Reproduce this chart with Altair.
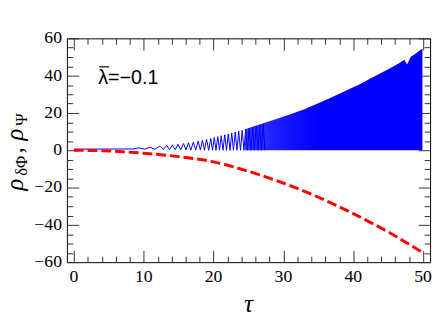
import altair as alt
import pandas as pd

# ---- data ----
tau_red = [0, 5, 10, 15, 20, 25, 30, 35, 40, 45, 50]
rho_red = [0, -0.4, -1.6, -3.4, -6.2, -11.3, -17.6, -25.2, -34.0, -43.8, -55.0]

tau_blue = [0, 8.5, 9.3, 10.1, 10.9, 11.6, 12.3, 12.8, 13.3, 13.7, 14.1, 14.5, 14.9, 15.3,
            15.7, 16.05, 16.4, 16.75, 17.1, 17.45, 17.8, 18.1, 18.4, 18.7, 19.0, 19.3,
            19.6, 19.85, 20.1, 20.35, 20.6, 20.85, 21.1, 21.35, 21.6, 21.85, 22.1, 22.35,
            22.6, 22.85, 23.1, 23.35, 23.6, 23.85, 24.1, 24.35, 24.6, 24.85, 25.1, 25.35,
            25.6, 25.85, 26.1, 26.35, 26.6, 26.85, 27.1, 27.35]
rho_blue = [0.6, 0.7, 1.3, 0.6, 1.6, 0.5, 2.3, 0.4, 2.6, 0.3, 2.9, 0.3, 3.2, 0.2,
            3.6, 0.2, 4.0, 0.1, 4.4, 0.1, 4.9, 0.1, 5.3, 0.0, 5.8, 0.0,
            6.3, 0.0, 6.8, 0.0, 7.3, 0.0, 7.8, 0.0, 8.3, 0.0, 8.8, 0.0,
            9.3, 0.0, 9.8, 0.0, 10.3, 0.0, 10.7, 0.0, 11.2, 0.0, 11.7, 0.0,
            12.3, 0.0, 12.9, 0.0, 13.5, 0.0, 14.1, 0.0]

tau_env = [24.5, 25, 27, 29, 31, 33, 35, 37, 39, 41, 43, 45, 46.5, 47.3, 47.7, 48.2, 49.0, 49.9]
env_upper = [11.0, 12.0, 14.3, 16.7, 19.3, 22.0, 25.2, 28.5, 32.0, 35.5, 39.5, 43.5, 46.5, 48.5, 46.0, 50.0, 52.0, 54.5]
env_lower = [0.0] * len(tau_env)

x_major = [0, 10, 20, 30, 40, 50]
x_labels = ["0", "10", "20", "30", "40", "50"]
x_minor = [2, 4, 6, 8, 12, 14, 16, 18, 22, 24, 26, 28, 32, 34, 36, 38, 42, 44, 46, 48]
y_major = [-60, -40, -20, 0, 20, 40, 60]
y_labels = ["−60", "−40", "−20", "0", "20", "40", "60"]
y_minor = [-55, -50, -45, -35, -30, -25, -15, -10, -5, 5, 10, 15, 25, 30, 35, 45, 50, 55]

param_text = "λ=−0.1"
x_title = "τ"
y_title_parts = ["ρ", "δΦ", ",", "ρ", "Ψ"]

red_df = pd.DataFrame({"tau": tau_red, "rho": rho_red})
blue_df = pd.DataFrame({"tau": tau_blue, "rho": rho_blue})
env_df = pd.DataFrame({"tau": tau_env, "hi": env_upper, "lo": env_lower})
xlab_df = pd.DataFrame({"v": x_major, "t": x_labels})
ylab_df = pd.DataFrame({"v": y_major, "t": y_labels})

XS = alt.Scale(domain=[-1, 51], nice=False, zero=False)
YS = alt.Scale(domain=[-60, 60], nice=False, zero=False)
TICK = "#333333"
SERIF = "Times New Roman, Liberation Serif, DejaVu Serif, serif"


def tick_axis(orient, values, size):
    return alt.Axis(orient=orient, values=values, labels=False, ticks=True, tickSize=size,
                    tickColor=TICK, tickWidth=1, domain=False, grid=False, title=None,
                    offset=-size)


area = alt.Chart(env_df).mark_area(
    color=alt.Gradient(gradient="linear",
                       stops=[alt.GradientStop(color="#3c3cff", offset=0),
                              alt.GradientStop(color="#1a1aff", offset=0.2),
                              alt.GradientStop(color="#0000ff", offset=0.4),
                              alt.GradientStop(color="#0000ff", offset=1)],
                       x1=0, x2=1, y1=0, y2=0)
).encode(
    x=alt.X("tau:Q", scale=XS, axis=tick_axis("bottom", x_minor, 6)),
    y=alt.Y("hi:Q", scale=YS, axis=tick_axis("left", y_minor, 6)),
    y2="lo:Q",
)

blue = alt.Chart(blue_df).mark_line(color="#0000ff", strokeWidth=1).encode(
    x=alt.X("tau:Q", scale=XS, axis=tick_axis("bottom", x_major, 12)),
    y=alt.Y("rho:Q", scale=YS, axis=tick_axis("left", y_major, 12)),
)

red = alt.Chart(red_df).mark_line(color="#ff0000", strokeWidth=3, strokeDash=[10, 4],
                                  interpolate="monotone").encode(
    x=alt.X("tau:Q", scale=XS, axis=None),
    y=alt.Y("rho:Q", scale=YS, axis=None),
)

top_major = alt.Chart(red_df).mark_line(opacity=0).encode(
    x=alt.X("tau:Q", scale=XS, axis=tick_axis("top", x_major, 12)),
    y=alt.Y("rho:Q", scale=YS, axis=tick_axis("right", y_major, 12)),
)
top_minor = alt.Chart(red_df).mark_line(opacity=0).encode(
    x=alt.X("tau:Q", scale=XS, axis=tick_axis("top", x_minor, 6)),
    y=alt.Y("rho:Q", scale=YS, axis=tick_axis("right", y_minor, 6)),
)

xlabels = alt.Chart(xlab_df).mark_text(font=SERIF, fontSize=18, align="center",
                                       baseline="alphabetic", color="black").encode(
    x=alt.X("v:Q", scale=XS, axis=None), y=alt.value(248), text="t:N")
ylabels = alt.Chart(ylab_df).mark_text(font=SERIF, fontSize=18, align="right",
                                       baseline="middle", color="black").encode(
    y=alt.Y("v:Q", scale=YS, axis=None), x=alt.value(-5), text="t:N")

txt_df = pd.DataFrame({"t": [param_text]})
param = alt.Chart(txt_df).mark_text(font="Liberation Sans", fontSize=20, align="left",
                                    baseline="alphabetic", color="black").encode(
    text="t:N", x=alt.value(32), y=alt.value(46))
# overbar on lambda
overbar = alt.Chart(txt_df).mark_rule(color="black", strokeWidth=1.2).encode(
    x=alt.value(33), x2=alt.value(43), y=alt.value(29))

xt = alt.Chart(pd.DataFrame({"t": [x_title]})).mark_text(
    font=SERIF, fontStyle="italic", fontSize=26, align="center", baseline="alphabetic",
    color="black").encode(text="t:N", x=alt.value(185), y=alt.value(279))

# y title built from pieces (rotated), subscripts smaller and shifted
yt_specs = [(0, 25, -45, 155), (1, 17, -41, 140), (2, 25, -45, 117), (3, 25, -45, 104), (4, 17, -41, 89)]
yt_layers = []
for idx, size, px, py in yt_specs:
    yt_layers.append(
        alt.Chart(pd.DataFrame({"t": [y_title_parts[idx]]})).mark_text(
            font=SERIF, fontStyle="italic" if idx in (0, 3) else "normal", fontSize=size,
            angle=270, align="left", baseline="alphabetic", color="black"
        ).encode(text="t:N", x=alt.value(px), y=alt.value(py))
    )

chart = alt.layer(area, blue, red, top_major, top_minor, xlabels, ylabels, param, overbar, xt,
                  *yt_layers).resolve_axis(
    x="independent", y="independent"
).properties(
    width=370, height=228,
    autosize=alt.AutoSizeParams(type="none"),
    padding={"left": 60, "top": 28, "right": 5, "bottom": 56},
    background="white",
).configure_view(stroke="black", strokeWidth=1)

chart.save("out.html", embed_options={"renderer": "svg", "actions": False})
